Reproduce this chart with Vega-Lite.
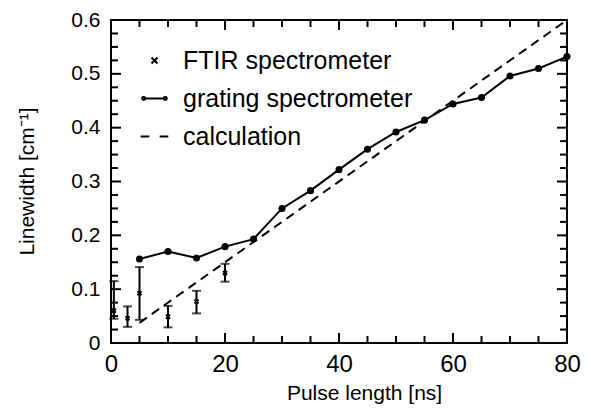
{
  "$schema": "https://vega.github.io/schema/vega-lite/v6.json",
  "width": 456,
  "height": 323,
  "autosize": {"type": "none"},
  "padding": {"left": 111, "top": 20, "right": 22, "bottom": 74},
  "background": "white",
  "config": {
    "view": {"stroke": "black", "strokeWidth": 2},
    "font": "Liberation Sans",
    "axis": {
      "domain": false,
      "grid": false,
      "ticks": false,
      "labelFont": "Liberation Sans",
      "titleFont": "Liberation Sans",
      "labelColor": "black",
      "titleColor": "black",
      "titleFontWeight": "normal"
    },
    "legend": {"labelFont": "Liberation Sans", "labelColor": "black"}
  },
  "datasets": {
    "grating": [
      {"pulse": 5, "width": 0.156},
      {"pulse": 10, "width": 0.170},
      {"pulse": 15, "width": 0.158},
      {"pulse": 20, "width": 0.179},
      {"pulse": 25, "width": 0.193},
      {"pulse": 30, "width": 0.250},
      {"pulse": 35, "width": 0.283},
      {"pulse": 40, "width": 0.322},
      {"pulse": 45, "width": 0.360},
      {"pulse": 50, "width": 0.392},
      {"pulse": 55, "width": 0.414},
      {"pulse": 60, "width": 0.444},
      {"pulse": 65, "width": 0.456},
      {"pulse": 70, "width": 0.496},
      {"pulse": 75, "width": 0.510},
      {"pulse": 80, "width": 0.532}
    ],
    "calc": [
      {"pulse": 5, "width": 0.0375},
      {"pulse": 80, "width": 0.6}
    ],
    "ftir": [
      {"series": "FTIR spectrometer", "pulse": 0.5, "width": 0.06, "lo": 0.045, "hi": 0.115},
      {"series": "FTIR spectrometer", "pulse": 2.9, "width": 0.046, "lo": 0.030, "hi": 0.068},
      {"series": "FTIR spectrometer", "pulse": 5, "width": 0.0925, "lo": 0.043, "hi": 0.141},
      {"series": "FTIR spectrometer", "pulse": 10, "width": 0.049, "lo": 0.029, "hi": 0.069},
      {"series": "FTIR spectrometer", "pulse": 15, "width": 0.077, "lo": 0.055, "hi": 0.097},
      {"series": "FTIR spectrometer", "pulse": 20, "width": 0.130, "lo": 0.114, "hi": 0.147}
    ],
    "xmajor": [{"v": 0}, {"v": 20}, {"v": 40}, {"v": 60}, {"v": 80}],
    "xminor": [{"v": 5}, {"v": 10}, {"v": 15}, {"v": 25}, {"v": 30}, {"v": 35}, {"v": 45}, {"v": 50}, {"v": 55}, {"v": 65}, {"v": 70}, {"v": 75}],
    "ymajor": [{"v": 0}, {"v": 0.1}, {"v": 0.2}, {"v": 0.3}, {"v": 0.4}, {"v": 0.5}, {"v": 0.6}],
    "yminor": [{"v": 0.025}, {"v": 0.05}, {"v": 0.075}, {"v": 0.125}, {"v": 0.15}, {"v": 0.175}, {"v": 0.225}, {"v": 0.25}, {"v": 0.275}, {"v": 0.325}, {"v": 0.35}, {"v": 0.375}, {"v": 0.425}, {"v": 0.45}, {"v": 0.475}, {"v": 0.525}, {"v": 0.55}, {"v": 0.575}]
  },
  "layer": [
    {
      "data": {"name": "calc"},
      "mark": {"type": "line", "color": "black", "strokeWidth": 2, "strokeDash": [9, 6]},
      "encoding": {
        "x": {
          "field": "pulse", "type": "quantitative",
          "scale": {"domain": [0, 80], "nice": false},
          "axis": {
            "orient": "bottom", "values": [0, 20, 40, 60, 80],
            "labelFontSize": 24, "labelPadding": 9, "labelFlush": false,
            "title": "Pulse length [ns]", "titleFontSize": 21,
            "titleX": 253, "titleY": 56, "titleBaseline": "alphabetic", "titleAlign": "center"
          }
        },
        "y": {
          "field": "width", "type": "quantitative",
          "scale": {"domain": [0, 0.6], "nice": false},
          "axis": {
            "orient": "left", "values": [0, 0.1, 0.2, 0.3, 0.4, 0.5, 0.6],
            "format": "~g", "labelFontSize": 21, "labelPadding": 11, "labelFlush": false,
            "title": "Linewidth [cm⁻¹]", "titleFontSize": 21,
            "titleX": -78, "titleY": 161, "titleBaseline": "alphabetic", "titleAlign": "center", "titleAngle": -90
          }
        }
      }
    },
    {
      "data": {"name": "grating"},
      "mark": {"type": "line", "color": "black", "strokeWidth": 2, "point": {"filled": true, "size": 50, "color": "black"}},
      "encoding": {
        "x": {"field": "pulse", "type": "quantitative", "scale": {"domain": [0, 80], "nice": false}, "axis": null},
        "y": {"field": "width", "type": "quantitative", "scale": {"domain": [0, 0.6], "nice": false}, "axis": null}
      }
    },
    {
      "data": {"name": "ftir"},
      "mark": {"type": "errorbar", "color": "black", "thickness": 2, "ticks": {"size": 9, "thickness": 2, "color": "black"}},
      "encoding": {
        "x": {"field": "pulse", "type": "quantitative", "scale": {"domain": [0, 80], "nice": false}, "axis": null},
        "y": {"field": "lo", "type": "quantitative", "scale": {"domain": [0, 0.6], "nice": false}, "axis": null},
        "y2": {"field": "hi"}
      }
    },
    {
      "data": {"name": "ftir"},
      "mark": {"type": "point", "filled": false, "color": "black", "strokeWidth": 2, "size": 237, "clip": true, "opacity": 1},
      "encoding": {
        "x": {"field": "pulse", "type": "quantitative", "scale": {"domain": [0, 80], "nice": false}, "axis": null},
        "y": {"field": "width", "type": "quantitative", "scale": {"domain": [0, 0.6], "nice": false}, "axis": null},
        "shape": {
          "field": "series", "type": "nominal",
          "scale": {
            "domain": ["FTIR spectrometer", "grating spectrometer", "calculation"],
            "range": [
              "M-0.26,-0.26L0.26,0.26M-0.26,0.26L0.26,-0.26",
              "M-0.94,0H0.94M-1.07,0A0.13,0.13 0 1,0 -0.81,0A0.13,0.13 0 1,0 -1.07,0ZM0.81,0A0.13,0.13 0 1,0 1.07,0A0.13,0.13 0 1,0 0.81,0Z",
              "M-1.2,0H-0.45M0.45,0H1.2"
            ]
          },
          "legend": {
            "orient": "none", "legendX": 31, "legendY": 28, "title": null,
            "symbolSize": 529, "symbolStrokeWidth": 2, "symbolStrokeColor": "black", "symbolFillColor": "black",
            "symbolOpacity": 1, "labelFontSize": 25, "labelOffset": 16, "rowPadding": 12, "padding": 0,
            "labelLimit": 400
          }
        }
      }
    },
    {
      "data": {"name": "xmajor"},
      "mark": {"type": "rule", "color": "black", "strokeWidth": 2},
      "encoding": {
        "x": {"field": "v", "type": "quantitative", "scale": {"domain": [0, 80], "nice": false}, "axis": null},
        "y": {"datum": 0, "type": "quantitative", "scale": {"domain": [0, 0.6], "nice": false}, "axis": null},
        "y2": {"datum": 0.0186}
      }
    },
    {
      "data": {"name": "xmajor"},
      "mark": {"type": "rule", "color": "black", "strokeWidth": 2},
      "encoding": {
        "x": {"field": "v", "type": "quantitative", "scale": {"domain": [0, 80], "nice": false}, "axis": null},
        "y": {"datum": 0.6, "type": "quantitative", "scale": {"domain": [0, 0.6], "nice": false}, "axis": null},
        "y2": {"datum": 0.5814}
      }
    },
    {
      "data": {"name": "xminor"},
      "mark": {"type": "rule", "color": "black", "strokeWidth": 2},
      "encoding": {
        "x": {"field": "v", "type": "quantitative", "scale": {"domain": [0, 80], "nice": false}, "axis": null},
        "y": {"datum": 0, "type": "quantitative", "scale": {"domain": [0, 0.6], "nice": false}, "axis": null},
        "y2": {"datum": 0.013}
      }
    },
    {
      "data": {"name": "xminor"},
      "mark": {"type": "rule", "color": "black", "strokeWidth": 2},
      "encoding": {
        "x": {"field": "v", "type": "quantitative", "scale": {"domain": [0, 80], "nice": false}, "axis": null},
        "y": {"datum": 0.6, "type": "quantitative", "scale": {"domain": [0, 0.6], "nice": false}, "axis": null},
        "y2": {"datum": 0.587}
      }
    },
    {
      "data": {"name": "ymajor"},
      "mark": {"type": "rule", "color": "black", "strokeWidth": 2},
      "encoding": {
        "y": {"field": "v", "type": "quantitative", "scale": {"domain": [0, 0.6], "nice": false}, "axis": null},
        "x": {"datum": 0, "type": "quantitative", "scale": {"domain": [0, 80], "nice": false}, "axis": null},
        "x2": {"datum": 1.76}
      }
    },
    {
      "data": {"name": "ymajor"},
      "mark": {"type": "rule", "color": "black", "strokeWidth": 2},
      "encoding": {
        "y": {"field": "v", "type": "quantitative", "scale": {"domain": [0, 0.6], "nice": false}, "axis": null},
        "x": {"datum": 80, "type": "quantitative", "scale": {"domain": [0, 80], "nice": false}, "axis": null},
        "x2": {"datum": 78.24}
      }
    },
    {
      "data": {"name": "yminor"},
      "mark": {"type": "rule", "color": "black", "strokeWidth": 2},
      "encoding": {
        "y": {"field": "v", "type": "quantitative", "scale": {"domain": [0, 0.6], "nice": false}, "axis": null},
        "x": {"datum": 0, "type": "quantitative", "scale": {"domain": [0, 80], "nice": false}, "axis": null},
        "x2": {"datum": 1.23}
      }
    },
    {
      "data": {"name": "yminor"},
      "mark": {"type": "rule", "color": "black", "strokeWidth": 2},
      "encoding": {
        "y": {"field": "v", "type": "quantitative", "scale": {"domain": [0, 0.6], "nice": false}, "axis": null},
        "x": {"datum": 80, "type": "quantitative", "scale": {"domain": [0, 80], "nice": false}, "axis": null},
        "x2": {"datum": 78.77}
      }
    }
  ],
  "resolve": {"axis": {"x": "independent", "y": "independent"}}
}
